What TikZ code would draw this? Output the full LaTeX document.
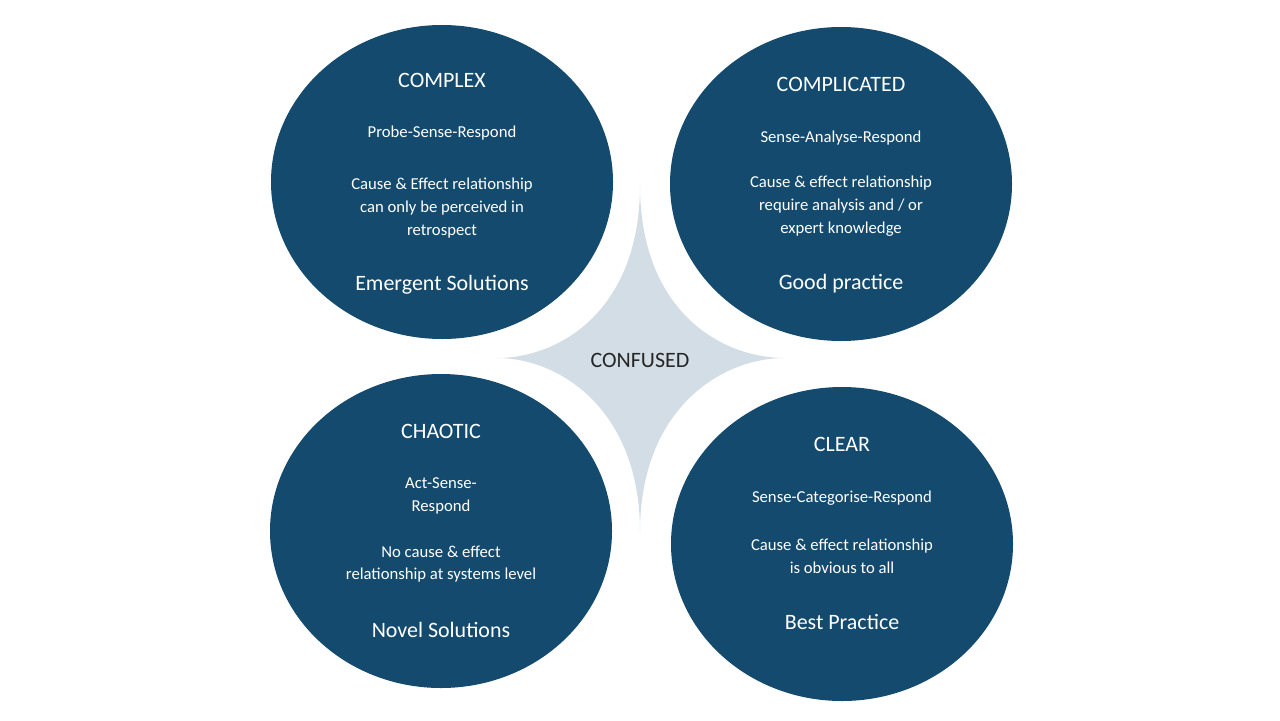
\documentclass[tikz,border=0pt]{standalone}
\usepackage{fontspec}
\setmainfont{Carlito}
\definecolor{domainblue}{HTML}{134A6E}
\definecolor{confgrey}{HTML}{D3DDE6}

\begin{document}
\begin{tikzpicture}[%
  x=0.02cm, y=-0.02cm,
  quadrant/.style={fill=domainblue, draw=none},
  title/.style={text=white, font=\fontsize{12.5}{14}\selectfont},
  body/.style={text=white, align=center, font=\fontsize{9.5}{13}\selectfont},
  foot/.style={text=white, font=\fontsize{12.5}{14}\selectfont},
]
  \useasboundingbox (0,0) rectangle (1280,720);

  % confused centre
  \fill[confgrey] (640,185) .. controls (640,310) and (560,358) .. (497,358)
    .. controls (560,358) and (640,410) .. (640,532)
    .. controls (640,410) and (720,358) .. (785,358)
    .. controls (720,358) and (640,310) .. cycle;
  \node[text=black!85, font=\fontsize{12.5}{14}\selectfont] (confused) at (640,360) {CONFUSED};

  % four domains
  \fill[quadrant] (442,182) ellipse [x radius=171, y radius=157];
  \fill[quadrant] (841,184) ellipse [x radius=171, y radius=157];
  \fill[quadrant] (441,531) ellipse [x radius=171, y radius=157];
  \fill[quadrant] (842,544) ellipse [x radius=171, y radius=157];

  \node[title] (complex) at (442,80) {COMPLEX};
  \node[body] (complexA) at (442,133) {Probe-Sense-Respond};
  \node[body] (complexB) at (442,208) {Cause \& Effect relationship\\can only be perceived in\\retrospect};
  \node[foot] (complexC) at (442,285) {Emergent Solutions};

  \node[title] (complicated) at (841,84) {COMPLICATED};
  \node[body] (complicatedA) at (841,138) {Sense-Analyse-Respond};
  \node[body] (complicatedB) at (841,206) {Cause \& effect relationship\\require analysis and / or\\expert knowledge};
  \node[foot] (complicatedC) at (841,284) {Good practice};

  \node[title] (chaotic) at (441,431) {CHAOTIC};
  \node[body] (chaoticA) at (441,496) {Act-Sense-\\Respond};
  \node[body] (chaoticB) at (441,564) {No cause \& effect\\relationship at systems level};
  \node[foot] (chaoticC) at (441,630) {Novel Solutions};

  \node[title] (clear) at (842,444) {CLEAR};
  \node[body] (clearA) at (842,498) {Sense-Categorise-Respond};
  \node[body] (clearB) at (842,556) {Cause \& effect relationship\\is obvious to all};
  \node[foot] (clearC) at (842,622) {Best Practice};
\end{tikzpicture}
\end{document}
